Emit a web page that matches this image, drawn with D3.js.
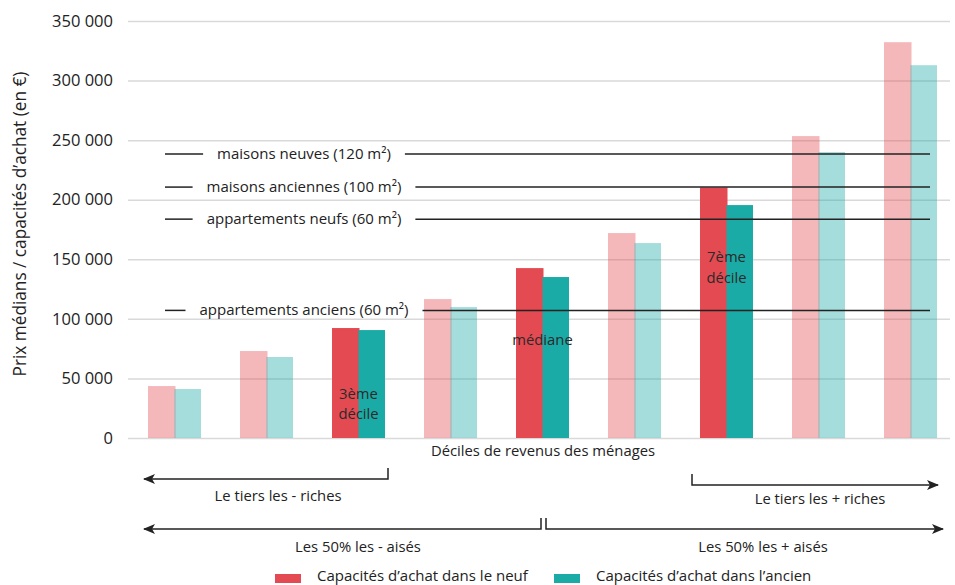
<!DOCTYPE html>
<html lang="fr">
<head>
<meta charset="utf-8">
<script src="https://cdn.jsdelivr.net/npm/d3@7"></script>
<style>
  html, body { margin: 0; padding: 0; background: #fff; }
  svg { display: block; font-family: "Open Sans", "Noto Sans", sans-serif; }
</style>
</head>
<body>
<svg id="chart" width="955" height="585"></svg>
<script>
// Déciles de revenus des ménages
const deciles = ["D1", "D2", "D3", "D4", "D5", "D6", "D7", "D8", "D9"];
// Capacité d'achat dans le neuf / dans l'ancien (en €)
const neuf   = [43600, 73000, 92300, 116600, 142600, 172000, 210300, 253400, 332200];
const ancien = [41100, 68000, 90600, 109900, 135100, 163600, 195500, 240000, 312900];
// Déciles mis en avant (couleur pleine)
const highlighted = ["D3", "D5", "D7"];
// Prix médians de référence
const refLabels = ["maisons neuves (120 m²)", "maisons anciennes (100 m²)", "appartements neufs (60 m²)", "appartements anciens (60 m²)"];
const refValues = [238300, 210600, 183700, 107100];
const yTicks = [0, 50000, 100000, 150000, 200000, 250000, 300000, 350000];
const seriesNames = ["Capacités d’achat dans le neuf", "Capacités d’achat dans l’ancien"];

const RED = "#E44A52", TEAL = "#1BABA7", INK = "#222";
const FS = 14.8;

const svg = d3.select("#chart");

const y = d3.scaleLinear().domain([0, 350000]).range([438, 21]);
const x0 = d3.scaleBand().domain(deciles).range([129, 956]).paddingInner(0.424).paddingOuter(0.2065);
const x1 = d3.scaleBand().domain(["neuf", "ancien"]).range([0, x0.bandwidth()]);

const fmt = v => d3.format(",")(v).replace(/,/g, " ");

// Grille horizontale et graduations
const yAxis = d3.axisLeft(y).tickValues(yTicks).tickSize(-(950 - 128)).tickFormat(fmt).tickPadding(15);
const gy = svg.append("g").attr("transform", "translate(128,0)").call(yAxis);
gy.select(".domain").remove();
gy.selectAll(".tick line").attr("stroke", "#d9d9d9").attr("stroke-width", 1.5);
gy.selectAll(".tick text").attr("fill", "#222").attr("font-size", 16.5).attr("font-family", "\"Open Sans\", sans-serif");

// Titre de l'axe vertical (taille ajustée pour occuper ~305 px)
const yTitle = svg.append("text")
  .attr("transform", "translate(26,224) rotate(-90)")
  .attr("text-anchor", "middle")
  .attr("font-size", 16).attr("fill", "#222")
  .text("Prix médians / capacités d’achat (en €)");
const tl = yTitle.node().getComputedTextLength();
yTitle.attr("font-size", Math.min(18, 16 * 305 / tl));

// Barres
const groups = svg.append("g").selectAll("g").data(deciles).join("g")
  .attr("transform", d => `translate(${x0(d)},0)`);

groups.each(function(d, i) {
  const g = d3.select(this);
  const strong = highlighted.includes(d);
  const op = strong ? 1 : 0.4;
  g.append("rect")
    .attr("x", x1("neuf")).attr("width", x1.bandwidth() + 1)
    .attr("y", y(neuf[i])).attr("height", y(0) - y(neuf[i]))
    .attr("fill", RED).attr("fill-opacity", op);
  g.append("rect")
    .attr("x", x1("ancien")).attr("width", x1.bandwidth())
    .attr("y", y(ancien[i])).attr("height", y(0) - y(ancien[i]))
    .attr("fill", TEAL).attr("fill-opacity", op);
});

// Lignes de référence (prix médians)
const refG = svg.append("g");
refLabels.forEach((lab, i) => {
  const yy = y(refValues[i]);
  const t = refG.append("text")
    .attr("x", 304).attr("y", yy + 5)
    .attr("text-anchor", "middle")
    .attr("font-size", 15).attr("fill", "#222")
    .text(lab);
  const w = t.node().getComputedTextLength();
  refG.append("line").attr("x1", 165).attr("x2", 304 - w / 2 - 14)
    .attr("y1", yy).attr("y2", yy).attr("stroke", INK).attr("stroke-width", 1.5);
  refG.append("line").attr("x1", 304 + w / 2 + 14).attr("x2", 930)
    .attr("y1", yy).attr("y2", yy).attr("stroke", INK).attr("stroke-width", 1.5);
});

// Étiquettes dans les barres
const mid = d => x0(d) + x0.bandwidth() / 2;
const inBar = svg.append("g").attr("font-size", FS).attr("fill", "#2a2a2a").attr("text-anchor", "middle");
inBar.append("text").attr("x", mid("D3")).attr("y", 399).text("3ème");
inBar.append("text").attr("x", mid("D3")).attr("y", 419).text("décile");
inBar.append("text").attr("x", mid("D5")).attr("y", 345).text("médiane");
inBar.append("text").attr("x", mid("D7")).attr("y", 262).text("7ème");
inBar.append("text").attr("x", mid("D7")).attr("y", 283).text("décile");

// Titre de l'axe horizontal
svg.append("text").attr("x", 543).attr("y", 456).attr("text-anchor", "middle")
  .attr("font-size", FS).attr("fill", "#222").text("Déciles de revenus des ménages");

// Flèches de regroupement
const defs = svg.append("defs");
defs.append("marker").attr("id", "arrow").attr("viewBox", "0 0 12 10")
  .attr("refX", 11).attr("refY", 5).attr("markerWidth", 12).attr("markerHeight", 10)
  .attr("markerUnits", "userSpaceOnUse").attr("orient", "auto-start-reverse")
  .append("path").attr("d", "M0,0 L12,5 L0,10 L3,5 Z").attr("fill", INK);

const arrows = svg.append("g").attr("fill", "none").attr("stroke", INK).attr("stroke-width", 1.5);
// Le tiers les - riches
arrows.append("path").attr("d", "M388,468 V479 H144").attr("marker-end", "url(#arrow)");
// Le tiers les + riches
arrows.append("path").attr("d", "M692,474 V485 H938").attr("marker-end", "url(#arrow)");
// Les 50 % les - aisés
arrows.append("path").attr("d", "M541,518 V529 H144").attr("marker-end", "url(#arrow)");
// Les 50 % les + aisés
arrows.append("path").attr("d", "M546,518 V529 H943").attr("marker-end", "url(#arrow)");

const grp = svg.append("g").attr("font-size", FS).attr("fill", "#222").attr("text-anchor", "middle");
grp.append("text").attr("x", 278).attr("y", 501).text("Le tiers les - riches");
grp.append("text").attr("x", 820).attr("y", 504).text("Le tiers les + riches");
grp.append("text").attr("x", 358).attr("y", 552).text("Les 50% les - aisés");
grp.append("text").attr("x", 763).attr("y", 552).text("Les 50% les + aisés");

// Légende
const legend = svg.append("g");
[[275, RED], [554, TEAL]].forEach(([lx, c], i) => {
  legend.append("rect").attr("x", lx).attr("y", 574).attr("width", 26).attr("height", 9).attr("fill", c);
  legend.append("text").attr("x", lx + 42).attr("y", 581).attr("font-size", 15).attr("fill", "#222")
    .text(seriesNames[i]);
});
</script>
</body>
</html>
